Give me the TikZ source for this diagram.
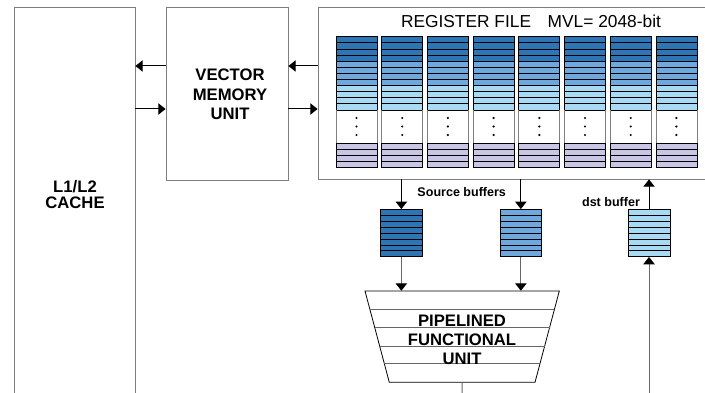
\documentclass[tikz,border=0pt]{standalone}
\usepackage{fontspec}
\setmainfont{Liberation Sans}
\usetikzlibrary{arrows.meta,fit,calc}

\definecolor{regdark}{RGB}{46,117,182}
\definecolor{regmid}{RGB}{111,168,220}
\definecolor{reglight}{RGB}{168,218,243}
\definecolor{reglav}{RGB}{200,198,228}
\definecolor{boxgray}{RGB}{125,125,125}

\tikzset{
  unitbox/.style={draw=boxgray, line width=0.6pt, inner sep=0pt},
  unitlabel/.style={font=\fontsize{12.5}{14.5}\selectfont\bfseries, align=center},
  smalllabel/.style={font=\fontsize{9.4}{11}\selectfont\bfseries},
  bus/.style={line width=0.75pt, -{Triangle[width=8.5pt,length=5.5pt,black]}},
  feed/.style={bus, draw=black!60},
  regrow/.style={draw=black, line width=0.5pt}
}

\begin{document}
\begin{tikzpicture}[x=0.75pt,y=-0.75pt]
\useasboundingbox (0,0) rectangle (705,392);
\clip (0,0) rectangle (705,392);
\fill[white] (0,0) rectangle (705,392);

% Cache and memory unit
\node[unitbox, fit={(14,7) (135,420)}] (cache) {};
\node[unitlabel, font=\fontsize{12.5}{12}\selectfont\bfseries] (cachetxt) at (75,195) {L1/L2\\CACHE};

\node[unitbox, fit={(166,7) (288,180)}] (vmu) {};
\node[unitlabel] (vmutxt) at (230,94.5) {VECTOR\\MEMORY\\UNIT};

% Register file
\node[unitbox, fit={(318,7) (720,179)}] (rf) {};
\node[font=\fontsize{13}{15}\selectfont] (rftxt) at (531,21) {REGISTER FILE\hspace{12.5pt}MVL= 2048-bit};

\foreach \i in {0,...,7} {
    \pgfmathsetmacro\xl{336+45.7*\i}
    % coloured registers
    \foreach \r/\col in {0/regdark,1/regdark,2/regdark,3/regdark,
                         4/regmid,5/regmid,6/regmid,7/regmid,
                         8/reglight,9/reglight,10/reglight,11/reglight} {
        \filldraw[regrow, fill=\col] (\xl,36.7+6.1*\r) rectangle ++(41,6.1);
    }
    % gap
    \draw[black!50, line width=0.5pt] (\xl,110) -- (\xl,143.3);
    \draw[black!50, line width=0.5pt] (\xl+41,110) -- (\xl+41,143.3);
    \foreach \d in {118,126.5,135} {
        \fill (\xl+20.5,\d) circle (1.2);
    }
    \foreach \r in {0,...,3} {
        \filldraw[regrow, fill=reglav] (\xl,143.3+6.1*\r) rectangle ++(41,6.1);
    }
}

% Buffers
\foreach \r in {0,...,7} {
    \filldraw[regrow, fill=regdark] (380,209.3+5.93*\r) rectangle ++(42.7,5.93);
    \filldraw[regrow, fill=regmid] (500,209.3+5.93*\r) rectangle ++(41.7,5.93);
    \filldraw[regrow, fill=reglight] (628,209.3+5.93*\r) rectangle ++(42,5.93);
}
\node[inner sep=0pt, fit={(380,209.3) (422.7,256.7)}] (srcA) {};
\node[inner sep=0pt, fit={(500,209.3) (541.7,256.7)}] (srcB) {};
\node[inner sep=0pt, fit={(628,209.3) (670,256.7)}] (dst) {};
\node[smalllabel] (srclabel) at (461.7,192.3) {Source buffers};
\node[smalllabel] (dstlabel) at (611,202.3) {dst buffer};

% Functional unit
\draw[line width=0.6pt] (365,291) -- (559.3,291) -- (535,382.3) -- (389.3,382.3) -- cycle;
\foreach \y in {309.3,327.7,346,363.3} {
    \pgfmathsetmacro\dx{(\y-291)*0.266}
    \draw[black!60, line width=0.5pt] (365+\dx,\y) -- (559.3-\dx,\y);
}
\node[inner sep=0pt, fit={(365,291) (559.3,382.3)}] (fu) {};
\node[unitlabel] (futxt) at (462,340) {PIPELINED\\FUNCTIONAL\\UNIT};

% Connections
\coordinate (upper) at (0,66);
\coordinate (lower) at (0,109);
\coordinate (dstin) at (649,400);
\coordinate (fuout) at (462,400);

\draw[bus] (vmu.west |- upper) -- (cache.east |- upper);
\draw[bus] (cache.east |- lower) -- (vmu.west |- lower);
\draw[bus] (rf.west |- upper) -- (vmu.east |- upper);
\draw[bus] (vmu.east |- lower) -- (rf.west |- lower);

\draw[bus] (rf.south -| srcA) -- (srcA.north);
\draw[bus] (rf.south -| srcB) -- (srcB.north);
\draw[bus] (dst.north) -- (rf.south -| dst);
\draw[feed] (srcA.south) -- (fu.north -| srcA);
\draw[feed] (srcB.south) -- (fu.north -| srcB);
\draw[feed] (dstin) -- (dstin |- dst.south);
\draw[black!60, line width=0.75pt] (fu.south) -- (fuout);

\end{tikzpicture}
\end{document}
